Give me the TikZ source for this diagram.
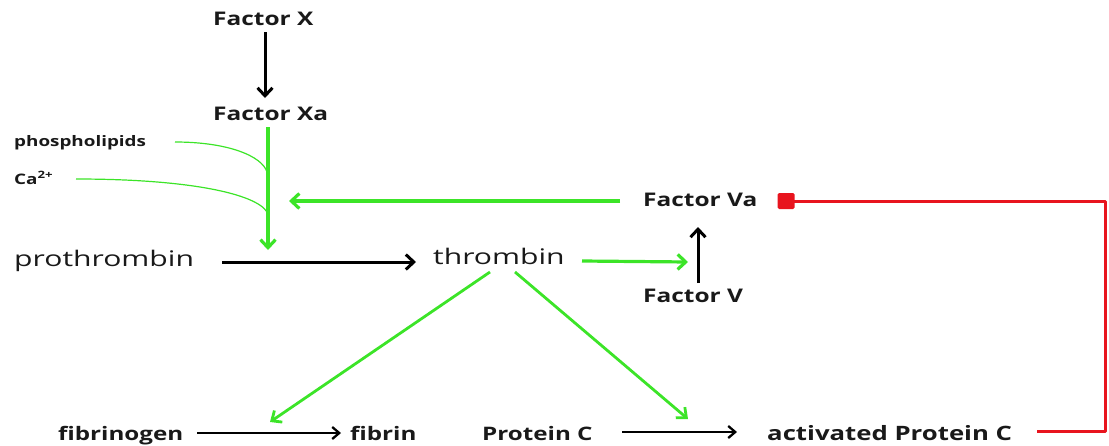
\documentclass[tikz,border=0pt]{standalone}
\usepackage{fontspec}
\setmainfont{Open Sans}
\newfontfamily\labr{Open Sans}[FakeStretch=1.4]
\newfontfamily\labs{Open Sans}[FakeStretch=1.3]
\usetikzlibrary{arrows.meta,calc}
\definecolor{gr}{RGB}{60,228,40}
\definecolor{rd}{RGB}{232,20,30}
\definecolor{tx}{RGB}{25,25,25}
\tikzset{
  lab/.style={inner sep=0pt, text=tx, anchor=base west},
  fac/.style={lab, font=\labs\bfseries\fontsize{18.8}{22}\selectfont},
  big/.style={lab, font=\labr\fontsize{21.5}{24}\selectfont},
  bot/.style={lab, font=\labs\bfseries\fontsize{18.6}{22}\selectfont},
  sml/.style={lab, font=\labs\bfseries\fontsize{14.5}{16}\selectfont},
  blk/.style={draw=black, line width=3pt, -{Straight Barb[length=8pt,width=15pt,line width=3pt]}},
  blkthin/.style={draw=black, line width=2.3pt, -{Straight Barb[length=7pt,width=12pt,line width=2.3pt]}},
  grn/.style={draw=gr, line width=3.2pt, -{Straight Barb[length=8pt,width=15pt,line width=3.2pt]}},
  grnd/.style={draw=gr, line width=2.8pt, -{Straight Barb[length=8pt,width=14pt,line width=2.8pt]}},
  grnthin/.style={draw=gr, line width=1.2pt},
  red/.style={draw=rd, line width=3pt},
}
\begin{document}
\begin{tikzpicture}[x=1pt,y=-1pt]
\useasboundingbox (0,0) rectangle (1109,445);
% labels
\node[fac] (FX) at (213,25) {Factor X};
\node[fac] (FXa) at (213,120) {Factor Xa};
\node[sml] (PL) at (14,146) {phospholipids};
\node[sml] (Ca) at (14,184) {Ca\textsuperscript{2+}};
\node[fac] (FVa) at (643,206) {Factor Va};
\node[big] (PT) at (14,266) {prothrombin};
\node[big] (TH) at (433,264) {thrombin};
\node[fac] (FV) at (643,302) {Factor V};
\node[bot] (FG) at (58,440) {fibrinogen};
\node[bot] (FB) at (350,440) {fibrin};
\node[bot] (PC) at (482,440) {Protein C};
\node[bot, font=\labs\bfseries\fontsize{19.8}{22}\selectfont] (APC) at (767,440) {activated Protein C};
% helper coordinates
\coordinate (xa1) at (265,32);
\coordinate (xa2) at (265,98);
\coordinate (v1) at (268,127);
\coordinate (v2) at (268,250);
\coordinate (c1) at (175,142);
\coordinate (c2) at (76,179);
\coordinate (m1) at (267,172);
\coordinate (m2) at (267,212);
\coordinate (pt1) at (222,262);
\coordinate (pt2) at (416,262);
\coordinate (va1) at (620,201);
\coordinate (va2) at (289,201);
\coordinate (th1) at (582,261);
\coordinate (th2) at (688,262);
\coordinate (fv1) at (698,283);
\coordinate (fv2) at (698,227);
\coordinate (d1a) at (490,272);
\coordinate (d1b) at (270,422);
\coordinate (d2a) at (515,272);
\coordinate (d2b) at (688,419);
\coordinate (f1) at (197,433);
\coordinate (f2) at (341,433);
\coordinate (p1) at (622,432);
\coordinate (p2) at (737,432);
\coordinate (sq) at (786,201);
\coordinate (r1) at (1105,201);
\coordinate (r2) at (1105,431);
\coordinate (r3) at (1037,431);
% connectors
\draw[blk] (xa1) -- (xa2);
\draw[grn] (v1) -- (v2);
\draw[grnthin] (c1) .. controls (228,142) and (262,156) .. (m1);
\draw[grnthin] (c2) .. controls (190,179) and (256,194) .. (m2);
\draw[blk] (pt1) -- (pt2);
\draw[grn] (va1) -- (va2);
\draw[grn] (th1) -- (th2);
\draw[blk] (fv1) -- (fv2);
\draw[grnd] (d1a) -- (d1b);
\draw[grnd] (d2a) -- (d2b);
\draw[blkthin] (f1) -- (f2);
\draw[blkthin] (p1) -- (p2);
\draw[red, line join=round] (sq) -- (r1) -- (r2) -- (r3);
\node[fill=rd, minimum width=17pt, minimum height=16pt, inner sep=0pt, rounded corners=1.5pt] (SQ) at (sq) {};
\end{tikzpicture}
\end{document}
